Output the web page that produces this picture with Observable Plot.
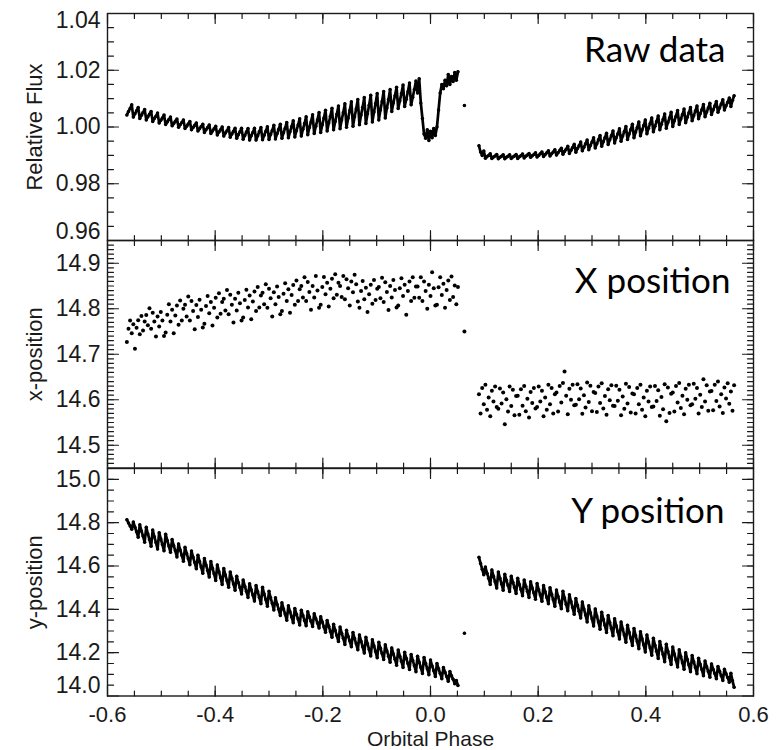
<!DOCTYPE html>
<html><head><meta charset="utf-8">
<script src="https://cdn.jsdelivr.net/npm/d3@7"></script>
<script src="https://cdn.jsdelivr.net/npm/@observablehq/plot@0.6"></script>
<style>
html,body{margin:0;padding:0;background:#fff;}
#chart svg{display:block;}
</style></head><body><div id="chart"></div>
<script>
// Orbital phase of each exposure (shared by all three panels)
const phase = [
-0.564,-0.561,-0.558,-0.555,-0.552,-0.549,-0.546,-0.543,-0.540,-0.537,-0.534,-0.531,
-0.528,-0.525,-0.522,-0.519,-0.516,-0.513,-0.510,-0.507,-0.504,-0.501,-0.498,-0.495,
-0.492,-0.489,-0.486,-0.483,-0.480,-0.477,-0.474,-0.471,-0.468,-0.465,-0.462,-0.459,
-0.456,-0.453,-0.450,-0.447,-0.444,-0.441,-0.438,-0.435,-0.432,-0.429,-0.426,-0.423,
-0.420,-0.417,-0.414,-0.411,-0.408,-0.405,-0.402,-0.399,-0.396,-0.393,-0.390,-0.387,
-0.384,-0.381,-0.378,-0.375,-0.372,-0.369,-0.366,-0.363,-0.360,-0.357,-0.354,-0.351,
-0.348,-0.345,-0.342,-0.339,-0.336,-0.333,-0.330,-0.327,-0.324,-0.321,-0.318,-0.315,
-0.312,-0.309,-0.306,-0.303,-0.300,-0.297,-0.294,-0.291,-0.288,-0.285,-0.282,-0.279,
-0.276,-0.273,-0.270,-0.267,-0.264,-0.261,-0.258,-0.255,-0.252,-0.249,-0.246,-0.243,
-0.240,-0.237,-0.234,-0.231,-0.228,-0.225,-0.222,-0.219,-0.216,-0.213,-0.210,-0.207,
-0.204,-0.201,-0.198,-0.195,-0.192,-0.189,-0.186,-0.183,-0.180,-0.177,-0.174,-0.171,
-0.168,-0.165,-0.162,-0.159,-0.156,-0.153,-0.150,-0.147,-0.144,-0.141,-0.138,-0.135,
-0.132,-0.129,-0.126,-0.123,-0.120,-0.117,-0.114,-0.111,-0.108,-0.105,-0.102,-0.099,
-0.096,-0.093,-0.090,-0.087,-0.084,-0.081,-0.078,-0.075,-0.072,-0.069,-0.066,-0.063,
-0.060,-0.057,-0.054,-0.051,-0.048,-0.045,-0.042,-0.039,-0.036,-0.033,-0.030,-0.027,
-0.024,-0.021,-0.018,-0.015,-0.012,-0.009,-0.006,-0.003,0.000,0.003,0.006,0.009,
0.012,0.015,0.018,0.021,0.024,0.027,0.030,0.033,0.036,0.039,0.042,0.045,
0.048,0.051,
0.063,
0.090,0.093,0.096,0.099,0.102,0.105,0.108,0.111,0.114,0.117,0.120,0.123,
0.126,0.129,0.132,0.135,0.138,0.141,0.144,0.147,0.150,0.153,0.156,0.159,
0.162,0.165,0.168,0.171,0.174,0.177,0.180,0.183,0.186,0.189,0.192,0.195,
0.198,0.201,0.204,0.207,0.210,0.213,0.216,0.219,0.222,0.225,0.228,0.231,
0.234,0.237,0.240,0.243,0.246,0.249,0.252,0.255,0.258,0.261,0.264,0.267,
0.270,0.273,0.276,0.279,0.282,0.285,0.288,0.291,0.294,0.297,0.300,0.303,
0.306,0.309,0.312,0.315,0.318,0.321,0.324,0.327,0.330,0.333,0.336,0.339,
0.342,0.345,0.348,0.351,0.354,0.357,0.360,0.363,0.366,0.369,0.372,0.375,
0.378,0.381,0.384,0.387,0.390,0.393,0.396,0.399,0.402,0.405,0.408,0.411,
0.414,0.417,0.420,0.423,0.426,0.429,0.432,0.435,0.438,0.441,0.444,0.447,
0.450,0.453,0.456,0.459,0.462,0.465,0.468,0.471,0.474,0.477,0.480,0.483,
0.486,0.489,0.492,0.495,0.498,0.501,0.504,0.507,0.510,0.513,0.516,0.519,
0.522,0.525,0.528,0.531,0.534,0.537,0.540,0.543,0.546,0.549,0.552,0.555,
0.558,0.561,0.564
];

// Raw relative flux
const flux = [
1.0042,1.0055,1.0065,1.0078,1.0035,1.0047,1.0057,1.0069,1.0030,1.0041,1.0051,1.0062,
1.0025,1.0036,1.0045,1.0055,1.0019,1.0030,1.0038,1.0049,1.0014,1.0024,1.0032,1.0042,
1.0009,1.0018,1.0026,1.0035,1.0004,1.0012,1.0020,1.0028,0.9999,1.0008,1.0016,1.0025,
0.9995,1.0003,1.0011,1.0019,0.9990,0.9998,1.0006,1.0014,0.9986,0.9994,1.0002,1.0010,
0.9981,0.9990,0.9998,1.0007,0.9977,0.9986,0.9994,1.0003,0.9972,0.9982,0.9990,1.0000,
0.9968,0.9979,0.9987,0.9998,0.9964,0.9975,0.9985,0.9996,0.9960,0.9973,0.9983,0.9996,
0.9957,0.9970,0.9982,0.9995,0.9954,0.9969,0.9981,0.9996,0.9954,0.9969,0.9983,0.9998,
0.9955,0.9971,0.9985,1.0001,0.9956,0.9974,0.9988,1.0006,0.9958,0.9976,0.9992,1.0010,
0.9960,0.9980,0.9996,1.0016,0.9962,0.9983,1.0001,1.0022,0.9965,0.9987,1.0007,1.0029,
0.9968,0.9992,1.0012,1.0036,0.9973,0.9998,1.0018,1.0043,0.9977,1.0003,1.0025,1.0051,
0.9981,1.0008,1.0032,1.0059,0.9986,1.0014,1.0038,1.0066,0.9990,1.0019,1.0045,1.0074,
0.9994,1.0025,1.0051,1.0082,0.9999,1.0031,1.0058,1.0089,1.0003,1.0036,1.0064,1.0097,
1.0008,1.0042,1.0070,1.0104,1.0012,1.0047,1.0077,1.0112,1.0018,1.0053,1.0083,1.0118,
1.0025,1.0060,1.0090,1.0125,1.0032,1.0067,1.0097,1.0132,1.0055,1.0085,1.0110,1.0140,
1.0065,1.0092,1.0118,1.0148,1.0072,1.0098,1.0124,1.0155,1.0078,1.0105,1.0132,1.0162,
1.0120,1.0170,1.0085,1.0030,0.9975,0.9960,0.9990,0.9952,0.9985,0.9962,0.9995,0.9970,
1.0000,1.0060,1.0120,1.0150,1.0135,1.0165,1.0145,1.0185,1.0150,1.0178,1.0160,1.0192,
1.0165,1.0195,
1.0076,
0.9934,0.9912,0.9900,0.9915,0.9890,0.9896,0.9900,0.9906,0.9889,0.9894,0.9898,0.9903,
0.9888,0.9893,0.9897,0.9902,0.9888,0.9893,0.9897,0.9902,0.9889,0.9894,0.9898,0.9903,
0.9889,0.9895,0.9899,0.9905,0.9891,0.9897,0.9901,0.9907,0.9893,0.9899,0.9903,0.9909,
0.9894,0.9900,0.9906,0.9912,0.9896,0.9903,0.9909,0.9916,0.9898,0.9906,0.9912,0.9920,
0.9901,0.9909,0.9917,0.9925,0.9904,0.9914,0.9922,0.9932,0.9907,0.9918,0.9928,0.9939,
0.9911,0.9924,0.9934,0.9947,0.9916,0.9929,0.9941,0.9954,0.9920,0.9935,0.9947,0.9962,
0.9926,0.9941,0.9955,0.9970,0.9932,0.9948,0.9962,0.9978,0.9938,0.9955,0.9969,0.9986,
0.9944,0.9962,0.9976,0.9994,0.9950,0.9968,0.9984,1.0002,0.9956,0.9975,0.9991,1.0010,
0.9962,0.9982,0.9998,1.0018,0.9969,0.9989,1.0005,1.0025,0.9976,0.9996,1.0012,1.0032,
0.9983,1.0003,1.0019,1.0039,0.9990,1.0010,1.0026,1.0046,0.9996,1.0016,1.0032,1.0052,
1.0002,1.0022,1.0038,1.0058,1.0009,1.0028,1.0044,1.0063,1.0015,1.0034,1.0050,1.0069,
1.0022,1.0040,1.0056,1.0074,1.0029,1.0047,1.0061,1.0079,1.0036,1.0053,1.0067,1.0084,
1.0044,1.0060,1.0074,1.0090,1.0052,1.0067,1.0081,1.0096,1.0060,1.0075,1.0087,1.0102,
1.0072,1.0094,1.0110
];

// Centroid x-position (pixels)
const xpos = [
14.727,14.756,14.774,14.746,14.766,14.712,14.758,14.775,14.744,14.784,14.752,14.772,
14.786,14.764,14.801,14.756,14.791,14.772,14.739,14.783,14.761,14.793,14.774,14.740,
14.748,14.787,14.810,14.772,14.798,14.746,14.785,14.807,14.765,14.818,14.774,14.800,
14.809,14.783,14.827,14.774,14.817,14.795,14.755,14.808,14.782,14.820,14.798,14.759,
14.767,14.806,14.828,14.790,14.815,14.763,14.802,14.824,14.781,14.834,14.789,14.815,
14.822,14.796,14.841,14.788,14.831,14.809,14.770,14.822,14.796,14.835,14.812,14.774,
14.781,14.819,14.842,14.803,14.829,14.777,14.816,14.838,14.795,14.848,14.803,14.829,
14.835,14.810,14.854,14.802,14.844,14.823,14.783,14.836,14.810,14.849,14.826,14.788,
14.795,14.833,14.856,14.817,14.843,14.791,14.830,14.852,14.809,14.862,14.817,14.843,
14.850,14.825,14.869,14.817,14.859,14.837,14.798,14.850,14.825,14.872,14.840,14.802,
14.809,14.848,14.870,14.832,14.857,14.805,14.844,14.866,14.823,14.876,14.831,14.857,
14.850,14.826,14.872,14.821,14.865,14.845,14.807,14.860,14.836,14.875,14.854,14.816,
14.802,14.839,14.861,14.821,14.846,14.793,14.832,14.853,14.811,14.863,14.819,14.844,
14.848,14.823,14.868,14.815,14.858,14.837,14.797,14.850,14.825,14.863,14.841,14.803,
14.807,14.845,14.867,14.828,14.853,14.787,14.839,14.860,14.817,14.869,14.824,14.849,
14.849,14.824,14.869,14.817,14.860,14.839,14.800,14.853,14.828,14.880,14.845,14.807,
14.809,14.847,14.869,14.830,14.855,14.802,14.841,14.862,14.819,14.871,14.826,14.851,
14.810,14.848,
14.750,
14.612,14.570,14.626,14.590,14.633,14.578,14.605,14.564,14.620,14.596,14.629,14.584,
14.580,14.625,14.592,14.616,14.546,14.601,14.574,14.629,14.586,14.622,14.566,14.608,
14.609,14.567,14.623,14.587,14.630,14.575,14.602,14.561,14.617,14.593,14.626,14.581,
14.584,14.629,14.596,14.620,14.564,14.605,14.578,14.633,14.590,14.626,14.570,14.612,
14.616,14.574,14.630,14.594,14.637,14.662,14.609,14.568,14.624,14.600,14.633,14.588,
14.589,14.634,14.601,14.625,14.569,14.610,14.583,14.638,14.595,14.631,14.575,14.617,
14.615,14.573,14.629,14.593,14.636,14.581,14.608,14.567,14.623,14.599,14.632,14.587,
14.586,14.631,14.598,14.622,14.566,14.607,14.580,14.635,14.592,14.628,14.572,14.614,
14.612,14.570,14.626,14.590,14.633,14.578,14.605,14.564,14.620,14.596,14.629,14.584,
14.585,14.630,14.597,14.621,14.565,14.606,14.579,14.634,14.553,14.627,14.571,14.613,
14.616,14.574,14.630,14.594,14.637,14.582,14.609,14.568,14.624,14.600,14.633,14.588,
14.590,14.635,14.602,14.626,14.570,14.611,14.584,14.645,14.596,14.632,14.576,14.618,
14.619,14.577,14.633,14.597,14.640,14.585,14.612,14.571,14.627,14.603,14.636,14.591,
14.618,14.576,14.632
];

// Centroid y-position (pixels)
const ypos = [
14.814,14.799,14.785,14.770,14.803,14.779,14.758,14.733,14.790,14.762,14.738,14.710,
14.779,14.748,14.722,14.691,14.766,14.735,14.709,14.678,14.754,14.725,14.699,14.670,
14.747,14.718,14.692,14.663,14.722,14.694,14.670,14.642,14.702,14.674,14.650,14.622,
14.686,14.658,14.634,14.606,14.669,14.640,14.616,14.587,14.650,14.621,14.595,14.566,
14.635,14.605,14.579,14.549,14.621,14.590,14.564,14.533,14.605,14.574,14.546,14.515,
14.588,14.558,14.532,14.502,14.572,14.543,14.517,14.488,14.553,14.524,14.500,14.471,
14.535,14.507,14.483,14.455,14.518,14.490,14.466,14.438,14.510,14.481,14.455,14.426,
14.502,14.471,14.445,14.414,14.483,14.453,14.427,14.397,14.453,14.424,14.400,14.371,
14.430,14.402,14.378,14.350,14.416,14.389,14.365,14.338,14.404,14.377,14.355,14.328,
14.396,14.371,14.349,14.324,14.389,14.365,14.345,14.321,14.380,14.357,14.337,14.314,
14.366,14.341,14.319,14.294,14.349,14.322,14.298,14.271,14.331,14.303,14.279,14.251,
14.318,14.290,14.266,14.238,14.303,14.276,14.254,14.227,14.293,14.265,14.241,14.213,
14.282,14.253,14.227,14.198,14.271,14.241,14.215,14.185,14.260,14.231,14.205,14.176,
14.248,14.220,14.196,14.168,14.236,14.208,14.184,14.156,14.222,14.194,14.170,14.142,
14.212,14.184,14.160,14.132,14.202,14.174,14.150,14.122,14.192,14.164,14.140,14.112,
14.184,14.156,14.132,14.104,14.178,14.150,14.126,14.098,14.166,14.139,14.117,14.090,
14.150,14.126,14.104,14.080,14.132,14.110,14.090,14.068,14.113,14.093,14.077,14.057,
14.072,14.048,
14.290,
14.640,14.612,14.585,14.560,14.595,14.567,14.543,14.515,14.582,14.553,14.527,14.498,
14.572,14.543,14.517,14.488,14.562,14.534,14.510,14.482,14.553,14.525,14.501,14.473,
14.543,14.515,14.491,14.463,14.535,14.507,14.483,14.455,14.527,14.499,14.475,14.447,
14.519,14.490,14.466,14.437,14.510,14.481,14.455,14.426,14.500,14.470,14.444,14.414,
14.489,14.459,14.433,14.403,14.483,14.452,14.424,14.393,14.467,14.436,14.408,14.377,
14.450,14.419,14.391,14.360,14.434,14.402,14.374,14.342,14.417,14.384,14.356,14.323,
14.402,14.369,14.341,14.308,14.387,14.354,14.326,14.293,14.372,14.339,14.311,14.278,
14.357,14.324,14.296,14.263,14.342,14.309,14.281,14.248,14.327,14.294,14.266,14.233,
14.312,14.279,14.251,14.218,14.297,14.264,14.236,14.203,14.282,14.249,14.221,14.188,
14.267,14.234,14.206,14.173,14.252,14.219,14.191,14.158,14.239,14.206,14.178,14.145,
14.226,14.194,14.166,14.134,14.213,14.182,14.154,14.123,14.200,14.169,14.143,14.112,
14.187,14.158,14.132,14.103,14.174,14.146,14.122,14.094,14.161,14.135,14.113,14.087,
14.148,14.124,14.104,14.080,14.136,14.114,14.094,14.072,14.124,14.103,14.085,14.064,
14.105,14.070,14.040
];

// Axis ticks and labels
const xDomain = [-0.6, 0.6];
const xTicks = [-0.6, -0.4, -0.2, 0.0, 0.2, 0.4, 0.6];
const fluxTicks = [0.96, 0.98, 1.00, 1.02, 1.04];
const xposTicks = [14.5, 14.6, 14.7, 14.8, 14.9];
const yposTicks = [14.0, 14.2, 14.4, 14.6, 14.8, 15.0];
const panelTitles = ["Raw data", "X position", "Y position"];
const axisTitles = ["Relative Flux", "x-position", "y-position", "Orbital Phase"];

const W = 780, ML = 107, MR = 27;
const FONT = "'Liberation Sans', Arial, Helvetica, sans-serif";
const INK = "#1a1a1a";
const minorRange = (a, b, step) => d3.range(Math.round(a / step), Math.round(b / step) + 1).map(i => +(i * step).toFixed(4));
const xMinor = minorRange(-0.6, 0.6, 0.05);
// continuous observing segments (before the gap, the lone frame, after the gap)
const segmentOf = p => (p < 0.06 ? "pre" : p > 0.07 ? "post" : "gap");

function tickMarks(vals, opts) {
  return Plot.vector(vals, {shape: "arrow", r: 0, anchor: "start", stroke: INK, strokeWidth: 1.2, ...opts});
}

function panel(cfg) {
  const {values, yDomain, yMajor, yMinorStep, fmt, title, titleDx, titleDy, yLabel,
         height, marginTop, marginBottom, bottomAxis, shifts, dense} = cfg;
  const data = phase.map((p, i) => ({p, v: values[i], seg: segmentOf(p)}));
  const [x0, x1] = xDomain, [y0, y1] = yDomain;
  const yMinor = minorRange(y0, y1, yMinorStep).filter(v => v > y0 && v < y1);
  const xIn = xMinor.filter(v => v > x0 && v < x1);
  const plain = yMajor.filter(v => shifts[v] === undefined);
  const marks = [];
  if (dense) marks.push(Plot.line(data, {x: "p", y: "v", z: "seg", stroke: "#000", strokeWidth: 2.7}));
  marks.push(
    Plot.dot(data, {x: "p", y: "v", r: dense ? 1.75 : 2.0, fill: "#000"}),
    Plot.frame({stroke: INK, strokeWidth: 1.4}),
    tickMarks(yMajor, {x: () => x0, y: d => d, length: 11, rotate: 90}),
    tickMarks(yMinor, {x: () => x0, y: d => d, length: 6, rotate: 90}),
    tickMarks(yMajor, {x: () => x1, y: d => d, length: 11, rotate: -90}),
    tickMarks(yMinor, {x: () => x1, y: d => d, length: 6, rotate: -90}),
    tickMarks(xTicks, {x: d => d, y: () => y0, length: 10, rotate: 0}),
    tickMarks(xIn, {x: d => d, y: () => y0, length: 5, rotate: 0}),
    tickMarks(xTicks, {x: d => d, y: () => y1, length: 10, rotate: 180}),
    tickMarks(xIn, {x: d => d, y: () => y1, length: 5, rotate: 180}),
    Plot.text(plain, {x: () => x0, y: d => d, text: fmt, textAnchor: "end", dx: -7, fontSize: 23, fill: INK}),
    ...Object.entries(shifts).map(([v, dy]) =>
      Plot.text([+v], {x: () => x0, y: d => d, text: fmt, textAnchor: "end", dx: -7, dy, fontSize: 23, fill: INK})),
    Plot.text([yLabel], {frameAnchor: "left", text: d => d, rotate: -90, textAnchor: "middle", dx: -73, fontSize: 22, fill: INK}),
    Plot.text([title], {frameAnchor: "top-right", text: d => d, textAnchor: "end", lineAnchor: "bottom",
      dx: titleDx, dy: titleDy, fontSize: 35, fontFamily: "Lato, 'Open Sans', sans-serif", fill: "#000"})
  );
  if (bottomAxis) {
    marks.push(Plot.text(xTicks, {x: d => d, y: () => y0, text: d => d.toFixed(1), lineAnchor: "bottom", dy: 26, fontSize: 22, fill: INK}));
    marks.push(Plot.text([axisTitles[3]], {frameAnchor: "bottom", text: d => d, textAnchor: "middle", lineAnchor: "bottom", dy: 50, fontSize: 21, fill: INK}));
  }
  return Plot.plot({
    width: W, height, marginLeft: ML, marginRight: MR, marginTop, marginBottom,
    x: {domain: xDomain, axis: null},
    y: {domain: yDomain, axis: null},
    style: {fontFamily: FONT, overflow: "visible", background: "transparent"},
    marks
  });
}

const chart = document.getElementById("chart");
chart.append(panel({
  values: flux, yDomain: [0.96, 1.04], yMajor: fluxTicks, yMinorStep: 0.005, fmt: d => d.toFixed(2),
  title: panelTitles[0], titleDx: -28, titleDy: 48, yLabel: axisTitles[0], dense: true,
  height: 240, marginTop: 13, marginBottom: 0, bottomAxis: false, shifts: {"1.04": 7, "0.96": -9}
}));
chart.append(panel({
  values: xpos, yDomain: [14.45, 14.95], yMajor: xposTicks, yMinorStep: 0.01, fmt: d => d.toFixed(1),
  title: panelTitles[1], titleDx: -23, titleDy: 52, yLabel: axisTitles[1], dense: false,
  height: 227.5, marginTop: 0, marginBottom: 0, bottomAxis: false, shifts: {}
}));
chart.append(panel({
  values: ypos, yDomain: [14.0, 15.05], yMajor: yposTicks, yMinorStep: 0.05, fmt: d => d.toFixed(1),
  title: panelTitles[2], titleDx: -29, titleDy: 54, yLabel: axisTitles[2], dense: true,
  height: 282.5, marginTop: 0, marginBottom: 55, bottomAxis: true, shifts: {"14": -10}
}));
</script>
</body></html>
